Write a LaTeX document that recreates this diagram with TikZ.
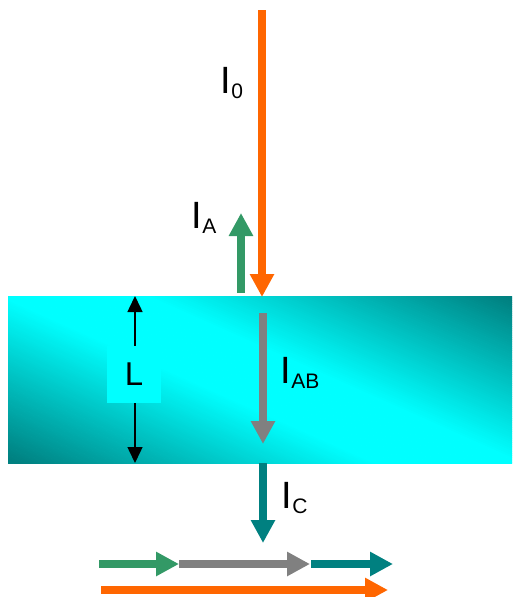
\documentclass[tikz,border=0pt]{standalone}
\usepackage{fontspec}
\setmainfont{Liberation Sans}
\usetikzlibrary{arrows.meta}
\definecolor{orangeI}{HTML}{FF6600}
\definecolor{greenI}{HTML}{339966}
\definecolor{grayI}{HTML}{808080}
\definecolor{tealI}{HTML}{008080}
\definecolor{cyanI}{HTML}{00FFFF}
\newcommand\lblsub[1]{\raisebox{-5pt}{\fontsize{21}{21}\selectfont #1}}
\begin{document}
\begin{tikzpicture}[x=1pt,y=-1pt,
  beam/.style={line width=8pt, -{Triangle[width=23pt,length=23pt]}},
  lbl/.style={anchor=base west, inner sep=0pt, font=\fontsize{38}{40}\selectfont},
  dimarrow/.style={black, line width=1.5pt, {Triangle[width=15pt,length=16pt]}-{Triangle[width=15pt,length=16pt]}},
]
\useasboundingbox (0,0) rectangle (512,597);
% slab with diagonal teal-cyan-teal gradient
\begin{scope}
\clip (8,296) rectangle (512,463);
\begin{scope}[shift={(260,379.5)}, rotate=-24]
\foreach \t in {-190,-188,...,190}{
  \pgfmathsetmacro{\p}{max(0,min(100,(abs(\t)-30)/145*100))}
  \fill[tealI!\p!cyanI] (-400,\t-1.3) rectangle (400,\t+1.3);
}
\end{scope}
\end{scope}
% coordinates
\coordinate (o0) at (262,10);
\coordinate (o1) at (262,297);
\coordinate (g0) at (241,293);
\coordinate (g1) at (241,213);
\coordinate (a0) at (263,313);
\coordinate (a1) at (263,444);
\coordinate (c0) at (263,463);
\coordinate (c1) at (263,543);
\coordinate (Ltop) at (135,296);
\coordinate (Lbot) at (135,463);
\coordinate (b0) at (99,564);
\coordinate (b1) at (179,564);
\coordinate (b2) at (310,564);
\coordinate (b3) at (311,564);
\coordinate (b4) at (393,564);
\coordinate (r0) at (101,590);
\coordinate (r1) at (388,590);
% vertical beams
\draw[beam, color=orangeI] (o0) -- (o1);
\draw[beam, color=greenI] (g0) -- (g1);
\draw[beam, color=grayI] (a0) -- (a1);
\draw[beam, color=tealI] (c0) -- (c1);
% thickness marker
\draw[dimarrow] (Ltop) -- (Lbot);
\node[fill=cyanI, minimum width=54pt, minimum height=57pt, inner sep=0pt, font=\fontsize{33}{35}\selectfont] (Lbox) at (134,374.5) {L};
% bottom sum
\draw[beam, color=greenI] (b0) -- (b1);
\draw[beam, color=grayI] (b1) -- (b2);
\draw[beam, color=tealI] (b3) -- (b4);
\draw[beam, color=orangeI] (r0) -- (r1);
% labels
\node[lbl] (l0) at (220.5,93) {I\lblsub{0}};
\node[lbl] (lA) at (191.5,228) {I\lblsub{A}};
\node[lbl] (lAB) at (280.5,383) {I\lblsub{AB}};
\node[lbl] (lC) at (281.5,508) {I\lblsub{C}};
\end{tikzpicture}
\end{document}
